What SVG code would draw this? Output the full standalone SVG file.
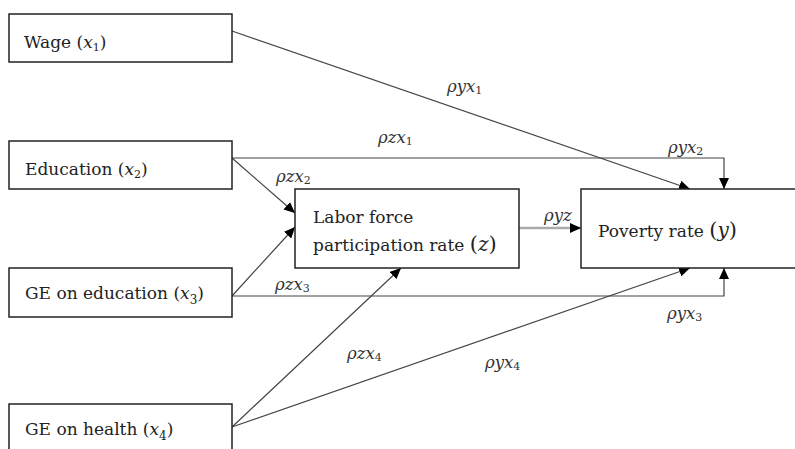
<svg xmlns="http://www.w3.org/2000/svg" width="795" height="449" viewBox="0 0 795 449">
<style>
.box{fill:#fff;stroke:#222;stroke-width:1.5}
.t{font-family:"DejaVu Serif","Liberation Serif",serif;font-size:17px;fill:#222}
.m{font-family:"DejaVu Serif","Liberation Serif",serif;font-style:italic}
.lbl{font-family:"DejaVu Serif","Liberation Serif",serif;font-style:italic;font-size:16.5px;fill:#333}
.sub{font-size:11px;font-style:normal}
.c{fill:none;stroke:#444;stroke-width:1.2}
.g{fill:none;stroke:#aaa;stroke-width:2.5}
</style>
<defs>
<marker id="ah" markerUnits="userSpaceOnUse" markerWidth="12" markerHeight="10" refX="11" refY="5" orient="auto">
<path d="M0,0 L11,5 L0,10 Z" fill="#000"/>
</marker>
</defs>
<rect width="795" height="449" fill="#fff"/>
<g id="connectors">
<line class="c" x1="232" y1="31" x2="690" y2="189" marker-end="url(#ah)"/>
<polyline class="c" points="232,158 724,158 724,189" marker-end="url(#ah)"/>
<line class="c" x1="232" y1="158" x2="295" y2="213" marker-end="url(#ah)"/>
<line class="c" x1="232" y1="296" x2="295" y2="227" marker-end="url(#ah)"/>
<polyline class="c" points="232,296 724,296 724,268" marker-end="url(#ah)"/>
<line class="c" x1="232" y1="427" x2="401" y2="268" marker-end="url(#ah)"/>
<line class="c" x1="232" y1="427" x2="690" y2="268" marker-end="url(#ah)"/>
<line class="g" x1="519" y1="228" x2="581" y2="228" marker-end="url(#ah)"/>
</g>
<g id="labels">
<text class="lbl" x="447" y="92">ρyx<tspan class="sub" dy="2">1</tspan></text>
<text class="lbl" x="378" y="143">ρzx<tspan class="sub" dy="2">1</tspan></text>
<text class="lbl" x="668" y="153">ρyx<tspan class="sub" dy="2">2</tspan></text>
<text class="lbl" x="276" y="182">ρzx<tspan class="sub" dy="2">2</tspan></text>
<text class="lbl" x="544" y="221">ρyz</text>
<text class="lbl" x="275" y="290">ρzx<tspan class="sub" dy="2">3</tspan></text>
<text class="lbl" x="667" y="319">ρyx<tspan class="sub" dy="2">3</tspan></text>
<text class="lbl" x="347" y="359">ρzx<tspan class="sub" dy="2">4</tspan></text>
<text class="lbl" x="485" y="368">ρyx<tspan class="sub" dy="2">4</tspan></text>
</g>
<g id="wage">
<rect class="box" x="9" y="14" width="223" height="48"/>
<text class="t" x="24" y="48">Wage (<tspan class="m">x</tspan><tspan class="sub" dy="3">1</tspan><tspan dy="-3">)</tspan></text>
</g>
<g id="education">
<rect class="box" x="9" y="141" width="223" height="48"/>
<text class="t" x="25" y="175">Education (<tspan class="m">x</tspan><tspan class="sub" dy="3">2</tspan><tspan dy="-3">)</tspan></text>
</g>
<g id="ge-education">
<rect class="box" x="9" y="268" width="223" height="49"/>
<text class="t" x="25" y="299">GE on education (<tspan class="m">x</tspan><tspan class="sub" dy="5" style="font-size:12px">3</tspan><tspan dy="-5">)</tspan></text>
</g>
<g id="ge-health">
<rect class="box" x="9" y="404" width="223" height="60"/>
<text class="t" x="25" y="435">GE on health (<tspan class="m">x</tspan><tspan class="sub" dy="5" style="font-size:12px">4</tspan><tspan dy="-5">)</tspan></text>
</g>
<g id="labor">
<rect class="box" x="295" y="189" width="224" height="79"/>
<text class="t" x="313" y="223">Labor force</text>
<text class="t" x="313" y="251">participation rate <tspan style="font-size:21px">(</tspan><tspan class="m" style="font-size:20px">z</tspan><tspan style="font-size:21px">)</tspan></text>
</g>
<g id="poverty">
<rect class="box" x="581" y="189" width="230" height="79"/>
<text class="t" x="598" y="237">Poverty rate <tspan style="font-size:21px">(</tspan><tspan class="m" style="font-size:20px">y</tspan><tspan style="font-size:21px">)</tspan></text>
</g>
</svg>
